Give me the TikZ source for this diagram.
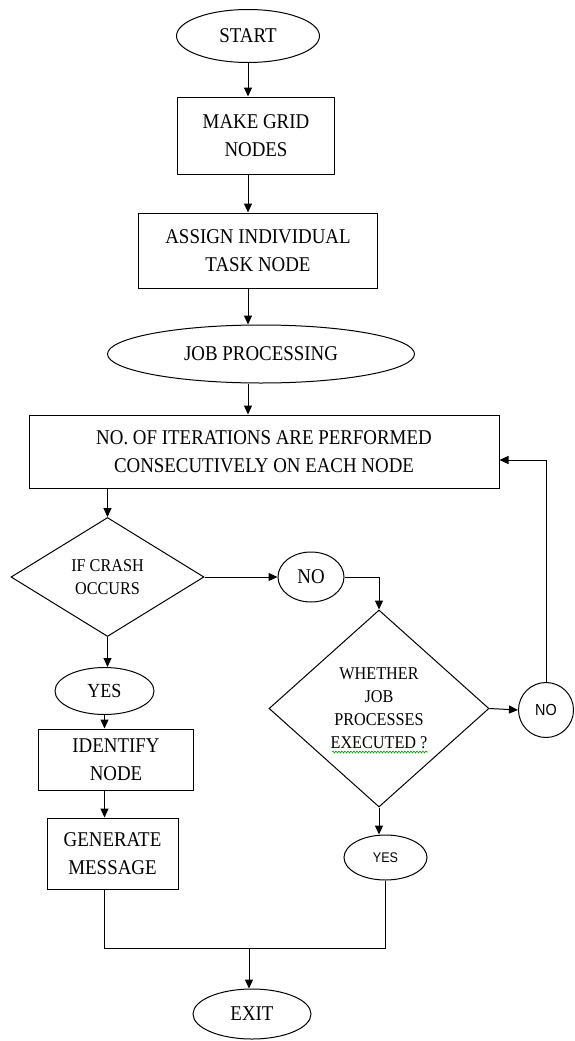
\documentclass[tikz,border=0pt]{standalone}
\usepackage{fontspec}
\setmainfont{Liberation Serif}[FakeStretch=0.9]
\newfontfamily\arl{Liberation Sans}[FakeStretch=0.9]
\usetikzlibrary{shapes.geometric,arrows.meta,decorations.pathmorphing}
\begin{document}
\begin{tikzpicture}[x=1pt,y=1pt,
  base/.style={draw=black, line width=1pt, inner sep=0pt, align=center, font=\fontsize{21}{28}\selectfont},
  box/.style={base, rectangle},
  oval/.style={base, ellipse},
  dia/.style={base, diamond, font=\fontsize{18}{23}\selectfont},
  arr/.style={line width=1pt, -{Triangle[length=9pt,width=8pt]}},
  ln/.style={line width=1pt}]
\useasboundingbox (0,0) rectangle (575,-1041);

\node[oval, minimum width=143, minimum height=53] (start) at (248,-36) {START};
\node[box, minimum width=157, minimum height=77] (make) at (256,-135.5) {MAKE GRID\\NODES};
\node[box, minimum width=239, minimum height=75] (assign) at (258,-250.5) {ASSIGN INDIVIDUAL\\TASK NODE};
\node[oval, minimum width=307, minimum height=58] (job) at (261,-354) {JOB PROCESSING};
\node[box, minimum width=470, minimum height=73] (iter) at (264,-451.5) {NO. OF ITERATIONS ARE PERFORMED\\CONSECUTIVELY ON EACH NODE};
\node[dia, aspect=1.62, minimum width=193, minimum height=119] (crash) at (107.5,-577) {IF CRASH\\OCCURS};
\node[oval, minimum width=66, minimum height=50] (no1) at (311,-577) {NO};
\node[dia, aspect=1.12, minimum width=220, minimum height=197] (whether) at (379,-708.5) {WHETHER\\JOB\\PROCESSES\\EXECUTED ?};
\node[base, circle, minimum size=55, font=\arl\fontsize{16}{19}\selectfont] (no2) at (546,-710) {NO};
\node[oval, minimum width=99, minimum height=47, font=\fontsize{20}{24}\selectfont] (yes1) at (104.5,-691) {YES};
\node[box, minimum width=155, minimum height=61] (identify) at (116,-759.5) {IDENTIFY\\NODE};
\node[box, minimum width=131, minimum height=71] (generate) at (112.5,-853.5) {GENERATE\\MESSAGE};
\node[oval, minimum width=83, minimum height=45, font=\arl\fontsize{14}{17}\selectfont] (yes2) at (385.5,-857.5) {YES};
\node[oval, minimum width=118, minimum height=50] (exit) at (252,-1014) {EXIT};
\coordinate (junc) at (249,-948);

% spell-check squiggle
\draw[green!60!black, line width=0.6pt, decorate, decoration={snake, amplitude=0.9pt, segment length=3pt}]
  (332,-752) -- (428,-752);

% connectors
\draw[arr] (start.south) -- (start.south |- make.north);
\draw[arr] (make.south -| start.south) -- (assign.north -| start.south);
\draw[arr] (assign.south -| start.south) -- (job.north -| start.south);
\draw[arr] (job.south -| start.south) -- (iter.north -| start.south);
\draw[arr] (iter.south -| crash.north) -- (crash.north);
\draw[arr] (crash.east) -- (no1.west);
\draw[arr] (no1.east) -| (whether.north);
\draw[arr] (whether.east) -- (no2.west);
\draw[arr] (no2.north) |- ([yshift=-8.5]iter.east);
\draw[arr] (crash.south) -- (crash.south |- yes1.north);
\draw[arr] (yes1.south) -- (yes1.south |- identify.north);
\draw[arr] (identify.south -| yes1.south) -- (generate.north -| yes1.south);
\draw[arr] (whether.south) -- (whether.south |- yes2.north);
\draw[ln] (generate.south -| yes1.south) |- (junc) -| (yes2.south);
\draw[arr] (junc) -- (junc |- exit.north);
\end{tikzpicture}
\end{document}
